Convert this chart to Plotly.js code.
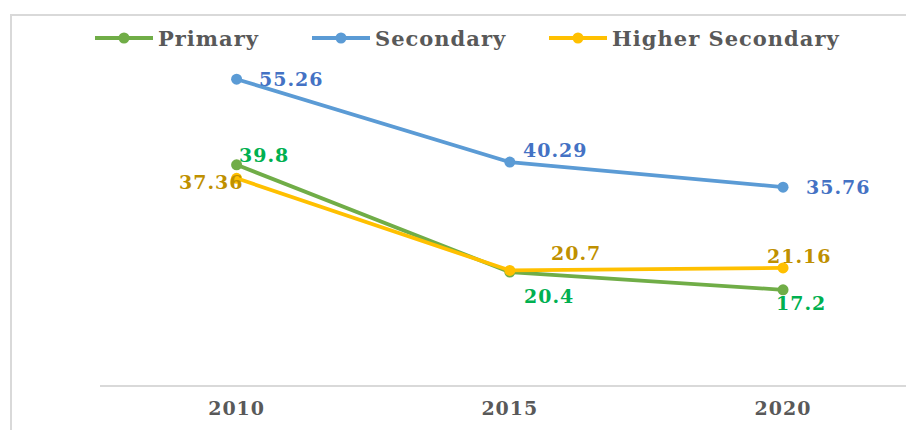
<!DOCTYPE html>
<html>
<head>
<meta charset="utf-8">
<script src="https://cdn.plot.ly/plotly-3.0.1.min.js"></script>
<style>
  html, body { margin: 0; padding: 0; background: #fff; }
  #chart { width: 906px; height: 430px; }
  .annotation-text { letter-spacing: 1px; }
  .xtick text { letter-spacing: 1px; }
</style>
</head>
<body>
<div id="chart"></div>
<script>
// ---- data ----
const years = ['2010', '2015', '2020'];
const seriesNames = ['Primary', 'Secondary', 'Higher Secondary'];
const primary = [39.8, 20.4, 17.2];
const secondary = [55.26, 40.29, 35.76];
const higherSecondary = [37.36, 20.7, 21.16];

// ---- styling ----
const FONT = 'DejaVu Serif, Liberation Serif, serif';
const W = 906, H = 430;
const M = { l: 100, r: 0, t: 53, b: 45 };
const PW = W - M.l - M.r, PH = H - M.t - M.b;
const px2x = p => (p - M.l) / PW;           // pixel -> paper x
const py2y = p => (H - M.b - p) / PH;        // pixel -> paper y

const styles = [
  { line: '#70AD47', label: '#00B050', offsets: [[27, 10], [39, -24], [18, -13]], legendX: 95 },
  { line: '#5B9BD5', label: '#4472C4', offsets: [[55, 0], [46, 12], [55, 0]], legendX: 312 },
  { line: '#FFC000', label: '#BF9000', offsets: [[-25, -4], [66, 17], [16, 12]], legendX: 549 }
];
const seriesValues = [primary, secondary, higherSecondary];

const traces = seriesValues.map((vals, k) => ({
  type: 'scatter',
  mode: 'lines+markers',
  name: seriesNames[k],
  x: years,
  y: vals,
  line: { color: styles[k].line, width: 3.8 },
  marker: { color: styles[k].line, size: 11 },
  cliponaxis: false,
  showlegend: false,
  hoverinfo: 'x+y+name'
}));

const annotations = [];
const shapes = [{
  type: 'path', xref: 'paper', yref: 'paper',
  path: `M ${px2x(11)},${py2y(440)} L ${px2x(11)},${py2y(15)} L ${px2x(920)},${py2y(15)}`,
  line: { color: '#D9D9D9', width: 2 }
}];

seriesValues.forEach((vals, k) => {
  const s = styles[k];
  vals.forEach((v, i) => {
    annotations.push({
      x: i, y: v, xref: 'x', yref: 'y',
      text: String(v), showarrow: false,
      xshift: s.offsets[i][0], yshift: s.offsets[i][1],
      font: { family: FONT, size: 19, color: s.label, weight: 'bold' }
    });
  });
  // custom legend entry: line + marker + text
  const LY = 38, LX = s.legendX, LLEN = 58, R = 5.5;
  shapes.push({
    type: 'line', xref: 'paper', yref: 'paper',
    x0: px2x(LX), x1: px2x(LX + LLEN), y0: py2y(LY), y1: py2y(LY),
    line: { color: s.line, width: 3.8 }
  });
  shapes.push({
    type: 'circle', xref: 'paper', yref: 'paper',
    x0: px2x(LX + LLEN / 2 - R), x1: px2x(LX + LLEN / 2 + R),
    y0: py2y(LY + R), y1: py2y(LY - R),
    fillcolor: s.line, line: { color: s.line, width: 0 }
  });
  annotations.push({
    xref: 'paper', yref: 'paper', x: px2x(LX + LLEN + 3), y: py2y(LY),
    xanchor: 'left', yanchor: 'middle', showarrow: false,
    text: seriesNames[k],
    font: { family: FONT, size: 21, color: '#595959', weight: 'bold' }
  });
});

const layout = {
  width: W, height: H,
  margin: M,
  paper_bgcolor: '#fff', plot_bgcolor: '#fff',
  showlegend: false,
  xaxis: {
    type: 'category', range: [-0.5, 2.45],
    showline: true, linecolor: '#D9D9D9', linewidth: 1.5,
    showgrid: false, zeroline: false, ticks: '',
    ticklabelstandoff: 5,
    tickfont: { family: FONT, size: 19, color: '#595959', weight: 'bold' },
    fixedrange: true
  },
  yaxis: {
    range: [0, 60], visible: false, showgrid: false, zeroline: false, fixedrange: true
  },
  shapes: shapes,
  annotations: annotations
};

Plotly.newPlot('chart', traces, layout, { displayModeBar: false });
</script>
</body>
</html>
